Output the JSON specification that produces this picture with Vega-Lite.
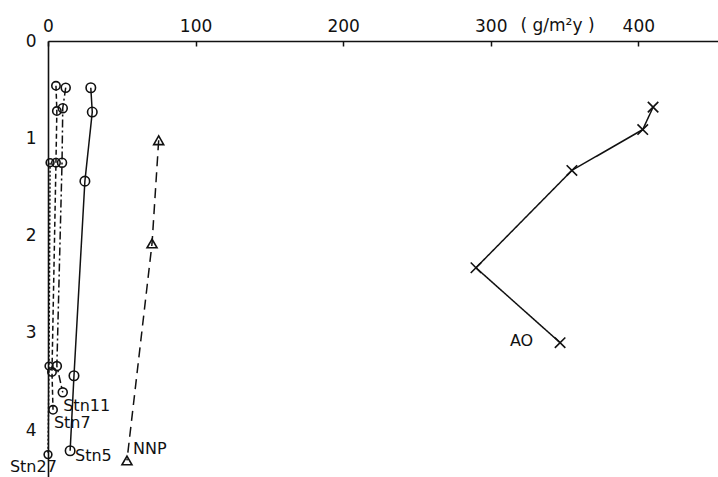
{
  "$schema": "https://vega.github.io/schema/vega-lite/v6.json",
  "width": 670,
  "height": 436,
  "autosize": {"type": "none"},
  "padding": {"left": 48, "top": 41, "right": 0, "bottom": 0},
  "background": "white",
  "config": {
    "view": {"stroke": null},
    "font": "DejaVu Sans",
    "axis": {"grid": false, "labelFont": "DejaVu Sans", "labelFontSize": 17, "labelColor": "#111", "domainColor": "#111", "domainWidth": 1.6, "tickColor": "#111", "tickWidth": 1.5, "labelFlush": false}
  },
  "datasets": {
    "pts": [
      {"series": "AO", "x": 410, "depth": 0.68},
      {"series": "AO", "x": 403, "depth": 0.91},
      {"series": "AO", "x": 355, "depth": 1.33},
      {"series": "AO", "x": 290, "depth": 2.33},
      {"series": "AO", "x": 347, "depth": 3.10},
      {"series": "NNP", "x": 75, "depth": 1.02},
      {"series": "NNP", "x": 70.5, "depth": 2.08},
      {"series": "NNP", "x": 53.5, "depth": 4.31},
      {"series": "Stn5", "x": 29, "depth": 0.48},
      {"series": "Stn5", "x": 30, "depth": 0.73},
      {"series": "Stn5", "x": 25, "depth": 1.44},
      {"series": "Stn5", "x": 17.6, "depth": 3.44},
      {"series": "Stn5", "x": 15, "depth": 4.21},
      {"series": "Stn11", "x": 12, "depth": 0.48},
      {"series": "Stn11", "x": 10, "depth": 0.69},
      {"series": "Stn11", "x": 9.5, "depth": 1.25},
      {"series": "Stn11", "x": 6, "depth": 3.34},
      {"series": "Stn11", "x": 10, "depth": 3.61},
      {"series": "Stn7", "x": 5.4, "depth": 0.46},
      {"series": "Stn7", "x": 6, "depth": 0.72},
      {"series": "Stn7", "x": 5.4, "depth": 1.25},
      {"series": "Stn7", "x": 2.7, "depth": 3.4},
      {"series": "Stn7", "x": 3.4, "depth": 3.79},
      {"series": "Stn27", "x": 1.4, "depth": 1.25},
      {"series": "Stn27", "x": 0.7, "depth": 3.34},
      {"series": "Stn27", "x": 0, "depth": 4.25}
    ],
    "labels": [
      {"label": "Stn11", "x": 10.3, "depth": 3.75},
      {"label": "Stn7", "x": 4, "depth": 3.92},
      {"label": "Stn5", "x": 18.3, "depth": 4.26},
      {"label": "NNP", "x": 57.6, "depth": 4.19},
      {"label": "Stn27", "x": -25.8, "depth": 4.38},
      {"label": "AO", "x": 313, "depth": 3.08}
    ]
  },
  "layer": [
    {
      "data": {"name": "pts"},
      "mark": {"type": "line", "color": "#111", "strokeWidth": 1.5},
      "encoding": {
        "x": {"field": "x", "type": "quantitative", "scale": {"domain": [0, 454], "nice": false, "zero": false},
          "axis": {"orient": "top", "values": [0, 100, 200, 300, 400], "format": "d", "tickSize": -5, "labelPadding": 11, "title": "( g/m²y )", "titleFont": "DejaVu Sans", "titleFontSize": 17, "titleFontWeight": "normal", "titleColor": "#111", "titleX": 509, "titleY": -16, "titleAlign": "center", "titleBaseline": "middle", "titlePadding": 0}},
        "y": {"field": "depth", "type": "quantitative", "scale": {"domain": [0, 4.48], "nice": false, "reverse": true},
          "axis": {"values": [0, 1, 2, 3, 4], "format": "d", "ticks": false, "labelPadding": 12, "title": null}},
        "detail": {"field": "series"},
        "order": {"field": "depth"},
        "strokeDash": {"field": "series", "type": "nominal",
          "scale": {"domain": ["AO", "NNP", "Stn5", "Stn11", "Stn7", "Stn27"], "range": [[1, 0], [10, 6], [1, 0], [8, 3, 2, 3], [5, 3], [2, 2]]},
          "legend": null}
      }
    },
    {
      "data": {"name": "pts"},
      "mark": {"type": "point", "filled": false, "color": "#111", "strokeWidth": 1.6, "opacity": 1},
      "encoding": {
        "x": {"field": "x", "type": "quantitative"},
        "y": {"field": "depth", "type": "quantitative"},
        "shape": {"field": "series", "type": "nominal",
          "scale": {"domain": ["AO", "NNP", "Stn5", "Stn11", "Stn7", "Stn27"], "range": ["M-1,-1L1,1M1,-1L-1,1", "triangle-up", "circle", "circle", "circle", "circle"]},
          "legend": null},
        "size": {"field": "series", "type": "nominal",
          "scale": {"domain": ["AO", "NNP", "Stn5", "Stn11", "Stn7", "Stn27"], "range": [110, 60, 60, 60, 60, 60]},
          "legend": null}
      }
    },
    {
      "data": {"name": "labels"},
      "mark": {"type": "text", "align": "left", "baseline": "middle", "fontSize": 16, "font": "DejaVu Sans", "color": "#111", "clip": false},
      "encoding": {
        "x": {"field": "x", "type": "quantitative"},
        "y": {"field": "depth", "type": "quantitative"},
        "text": {"field": "label"}
      }
    }
  ]
}
